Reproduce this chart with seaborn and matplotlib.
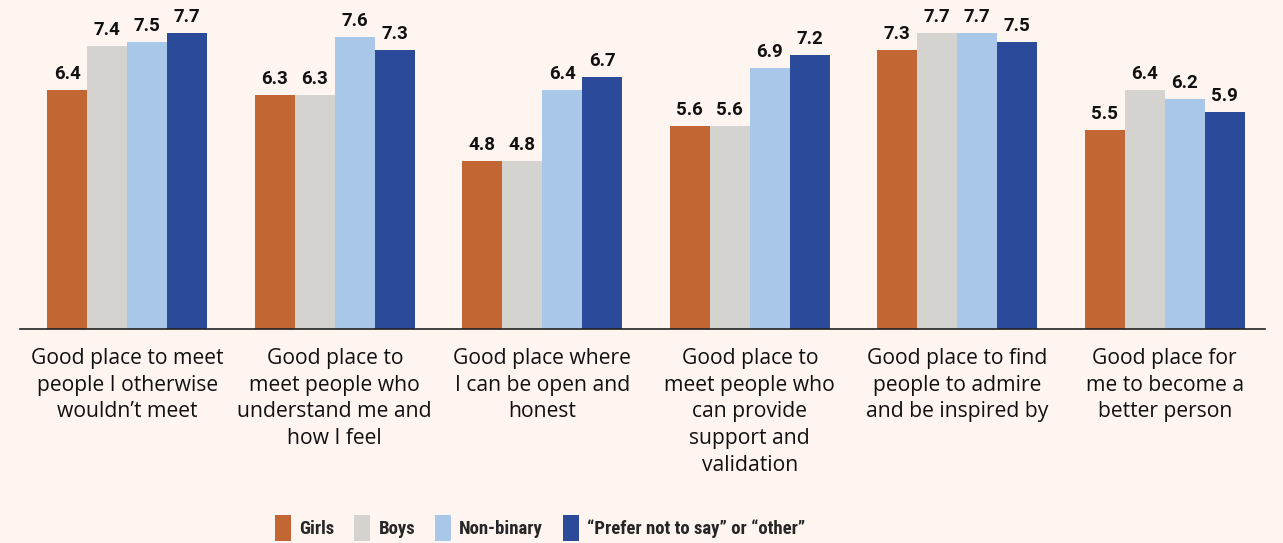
import matplotlib
matplotlib.use("Agg")
import matplotlib.pyplot as plt
import seaborn as sns
import pandas as pd
from matplotlib.patches import Patch

categories = [
    "Good place to meet\npeople I otherwise\nwouldn\u2019t meet",
    "Good place to\nmeet people who\nunderstand me and\nhow I feel",
    "Good place where\nI can be open and\nhonest",
    "Good place to\nmeet people who\ncan provide\nsupport and\nvalidation",
    "Good place to find\npeople to admire\nand be inspired by",
    "Good place for\nme to become a\nbetter person",
]
groups = ["Girls", "Boys", "Non-binary", "\u201cPrefer not to say\u201d or \u201cother\u201d"]
girls = [6.4, 6.3, 4.8, 5.6, 7.3, 5.5]
boys = [7.4, 6.3, 4.8, 5.6, 7.7, 6.4]
nonbinary = [7.5, 7.6, 6.4, 6.9, 7.7, 6.2]
prefer = [7.7, 7.3, 6.7, 7.2, 7.5, 5.9]
colors = ["#C26733", "#D4D3CF", "#A9C7E8", "#2B4A9A"]
bg = "#FEF5F1"

rows = []
for g, vals in zip(groups, [girls, boys, nonbinary, prefer]):
    for c, v in zip(categories, vals):
        rows.append({"category": c, "group": g, "value": v})
df = pd.DataFrame(rows)

sns.set_style("white")
plt.rcParams["font.family"] = ["Open Sans", "DejaVu Sans"]

fig = plt.figure(figsize=(12.83, 5.43), dpi=100, facecolor=bg)
ax = fig.add_axes([20 / 1283, (543 - 329) / 543, 1245 / 1283, 329 / 543])
ax.set_facecolor(bg)

sns.barplot(data=df, x="category", y="value", hue="group", hue_order=groups,
            order=categories, palette=colors, width=0.77, ax=ax,
            saturation=1, legend=False, errorbar=None, linewidth=0)

for cont in ax.containers:
    ax.bar_label(cont, fmt="%.1f", padding=5, fontsize=13.5, fontweight="bold",
                 color="#111111", family=["Roboto", "DejaVu Sans"])

ax.set_ylim(1, 8.44)
ax.set_xlim(-0.517, 5.483)
ax.set_yticks([])
ax.set_xlabel("")
ax.set_ylabel("")
for s in ["top", "right", "left"]:
    ax.spines[s].set_visible(False)
ax.spines["bottom"].set_color("#222222")
ax.spines["bottom"].set_linewidth(1.2)
ax.tick_params(axis="x", length=0, pad=13.5, labelsize=15.2, colors="#111111")
for lbl in ax.get_xticklabels():
    lbl.set_linespacing(1.36)

handles = [Patch(facecolor=c, edgecolor="none") for c in colors]
fig.legend(handles, groups, loc="center left", bbox_to_anchor=(275 / 1283, 0.027),
           ncol=4, frameon=False, handlelength=0.85, handleheight=1.75,
           handletextpad=0.45, columnspacing=1.05, borderpad=0, borderaxespad=0,
           prop={"family": ["Roboto Condensed", "Archivo Narrow",
                            "IBM Plex Sans Condensed", "Roboto", "DejaVu Sans"],
                 "weight": "bold", "size": 13.5})

fig.savefig("out.png", dpi=100, facecolor=bg)
